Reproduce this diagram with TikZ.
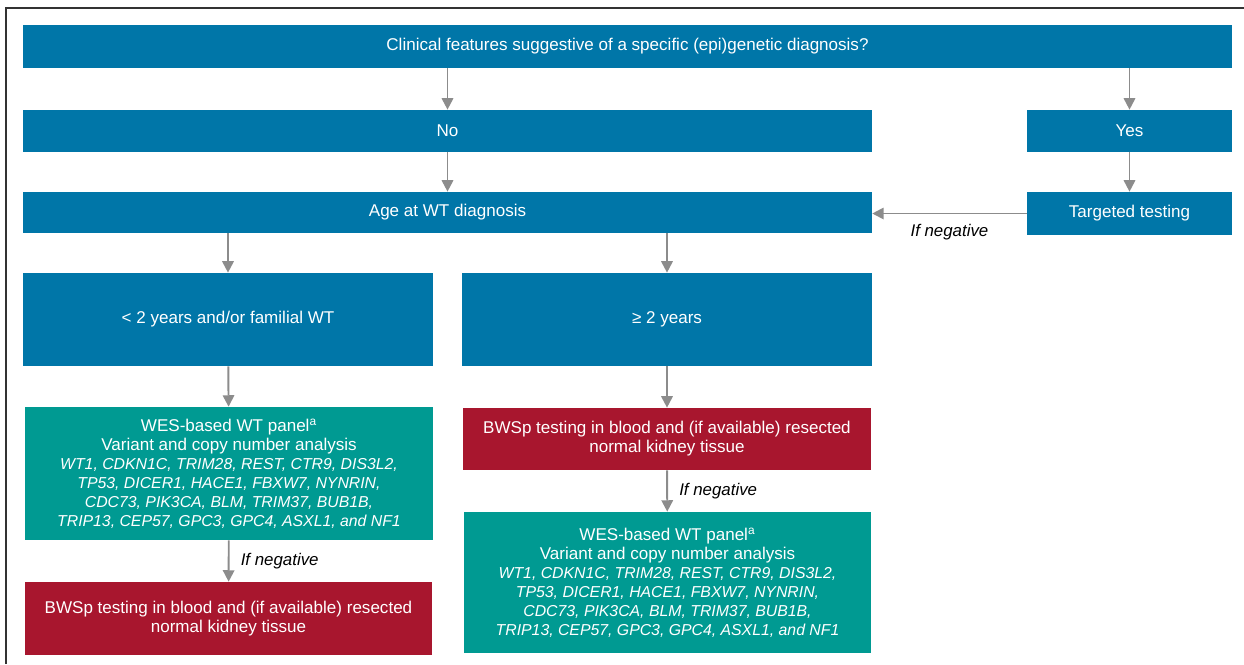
\documentclass[tikz,border=0pt]{standalone}
\usepackage{fontspec}
\setmainfont{Liberation Sans}
\usetikzlibrary{arrows.meta}

\definecolor{wtblue}{RGB}{0,118,168}
\definecolor{wtteal}{RGB}{0,154,146}
\definecolor{wtred}{RGB}{168,22,46}

\newcommand{\genes}{\fontsize{9}{10.8}\selectfont\itshape}

\begin{document}
\begin{tikzpicture}[x=0.02cm, y=-0.02cm,
  box/.style={text=white, inner sep=0pt, align=center,
    font=\fontsize{9.7}{10.8}\selectfont},
  arr/.style={draw=gray!90, line width=1.1pt, -{Triangle[length=6.5pt,width=6.5pt]}},
  neg/.style={font=\fontsize{9.6}{10}\selectfont\itshape}]

\useasboundingbox (0,0) rectangle (1244,664);

% Frame
\draw[black!80, line width=0.9pt] (6,664) -- (6,8) -- (1244,8);

% Top row
\node[box, fill=wtblue, minimum width=24.18cm, minimum height=0.86cm] (clin) at (627.5,46.5)
  {Clinical features suggestive of a specific (epi)genetic diagnosis?};
\node[box, fill=wtblue, minimum width=16.98cm, minimum height=0.84cm] (no) at (447.5,131) {No};
\node[box, fill=wtblue, minimum width=4.10cm, minimum height=0.84cm] (yes) at (1129.5,131) {Yes};
\node[box, fill=wtblue, minimum width=16.98cm, minimum height=0.82cm] (age) at (447.5,212.5) {Age at WT diagnosis};
\node[box, fill=wtblue, minimum width=4.10cm, minimum height=0.86cm] (tgt) at (1129.5,213.5) {Targeted testing};

% Age groups
\node[box, fill=wtblue, minimum width=8.20cm, minimum height=1.86cm] (young) at (228,319.5)
  {< 2 years and/or familial WT};
\node[box, fill=wtblue, minimum width=8.20cm, minimum height=1.86cm] (old) at (667,319.5)
  {≥ 2 years};

% Testing
\node[box, fill=wtteal, minimum width=8.16cm, minimum height=2.66cm] (panelL) at (229,473.5)
  {WES-based WT panel\textsuperscript{a}\\
   Variant and copy number analysis\\
   {\genes WT1, CDKN1C, TRIM28, REST, CTR9, DIS3L2,}\\
   {\genes TP53, DICER1, HACE1, FBXW7, NYNRIN,}\\
   {\genes CDC73, PIK3CA, BLM, TRIM37, BUB1B,}\\
   {\genes TRIP13, CEP57, GPC3, GPC4, ASXL1, and NF1}};
\node[box, fill=wtred, minimum width=8.14cm, minimum height=1.46cm] (bwsL) at (228.5,618.5)
  {BWSp testing in blood and (if available) resected\\normal kidney tissue};
\node[box, fill=wtred, minimum width=8.16cm, minimum height=1.24cm] (bwsR) at (667,439)
  {BWSp testing in blood and (if available) resected\\normal kidney tissue};
\node[box, fill=wtteal, minimum width=8.14cm, minimum height=2.82cm] (panelR) at (667.5,582.5)
  {WES-based WT panel\textsuperscript{a}\\
   Variant and copy number analysis\\
   {\genes WT1, CDKN1C, TRIM28, REST, CTR9, DIS3L2,}\\
   {\genes TP53, DICER1, HACE1, FBXW7, NYNRIN,}\\
   {\genes CDC73, PIK3CA, BLM, TRIM37, BUB1B,}\\
   {\genes TRIP13, CEP57, GPC3, GPC4, ASXL1, and NF1}};

% Arrows
\draw[arr] (clin.south -| no) -- (no.north);
\draw[arr] (clin.south -| yes) -- (yes.north);
\draw[arr] (no) -- (age);
\draw[arr] (yes) -- (tgt);
\draw[arr] (tgt.west) -- node[neg, below=2pt] {If negative} (tgt.west -| age.east);
\draw[arr] (age.south -| young) -- (young.north);
\draw[arr] (age.south -| old) -- (old.north);
\draw[arr] (young) -- (panelL);
\draw[arr] (old) -- (bwsR);
\draw[arr] (panelL) -- node[neg, right=3pt] {If negative} (bwsL);
\draw[arr] (bwsR) -- node[neg, right=3pt] {If negative} (panelR);

\end{tikzpicture}
\end{document}
